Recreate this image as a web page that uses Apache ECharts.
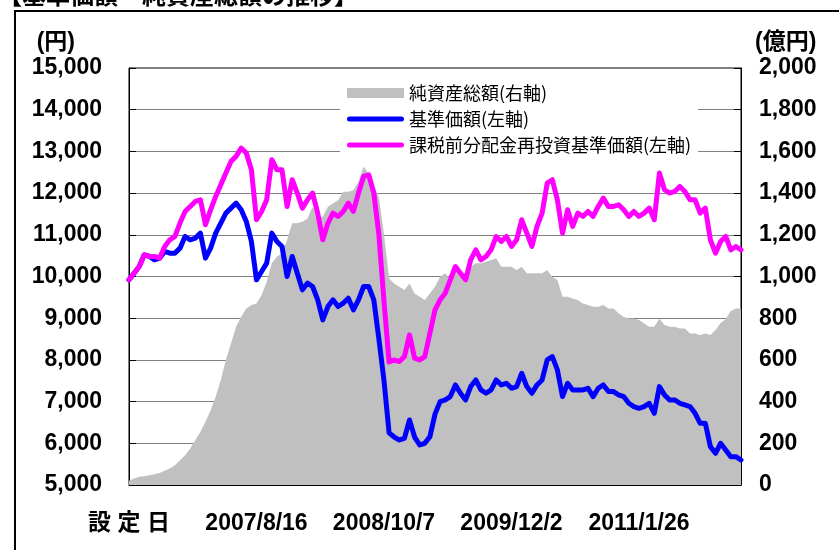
<!DOCTYPE html>
<html>
<head>
<meta charset="utf-8">
<script src="https://cdn.jsdelivr.net/npm/echarts@6.0.0/dist/echarts.min.js"></script>
<style>
    html, body { margin: 0; padding: 0; background: #fff; }
    #chart { width: 839px; height: 550px; }
</style>
</head>
<body>
<div id="chart"></div>
<script>
// x軸ラベル（設定日からの位置）
var tickLabels = ['設 定 日', '2007/8/16', '2008/10/7', '2009/12/2', '2011/1/26'];
var tickIndex = [0, 25, 50, 75, 100];

// 純資産総額（億円・右軸）
var netAssets = [20, 31, 39, 42, 47, 52, 58, 68, 79, 95,
    119, 143, 175, 215, 255, 303, 359, 423, 503, 599,
    679, 759, 807, 847, 863, 871, 911, 975, 1063, 1095,
    1111, 1175, 1255, 1255, 1263, 1278, 1334, 1286, 1286, 1334,
    1350, 1366, 1406, 1406, 1414, 1454, 1526, 1494, 1440, 1380,
    1200, 990, 967, 951, 935, 967, 919, 903, 887, 919,
    951, 999, 1015, 983, 1031, 1015, 1015, 1047, 1063, 1063,
    1071, 1079, 1087, 1047, 1047, 1047, 1031, 1047, 1015, 1015,
    1015, 1015, 1031, 999, 983, 903, 903, 895, 887, 871,
    863, 855, 855, 863, 847, 847, 823, 807, 799, 799,
    791, 775, 759, 759, 799, 767, 759, 759, 751, 751,
    727, 727, 719, 727, 719, 743, 777, 795, 835, 847,
    847];

// 基準価額（円・左軸）
var nav = [9920, 10080, 10240, 10520, 10480, 10400, 10440, 10600, 10560, 10560,
    10680, 10960, 10880, 10920, 11040, 10440, 10680, 11040, 11280, 11520,
    11640, 11760, 11600, 11320, 10840, 9920, 10120, 10320, 11040, 10840,
    10720, 10000, 10480, 10080, 9680, 9840, 9760, 9440, 8960, 9280,
    9440, 9280, 9360, 9480, 9200, 9440, 9760, 9760, 9440, 8500,
    7500, 6250, 6150, 6080, 6120, 6560, 6150, 5960, 6000, 6160,
    6700, 7000, 7040, 7120, 7400, 7200, 7040, 7360, 7520, 7280,
    7200, 7280, 7520, 7400, 7440, 7320, 7360, 7680, 7360, 7200,
    7400, 7520, 8000, 8080, 7760, 7120, 7440, 7280, 7280, 7280,
    7320, 7120, 7320, 7400, 7240, 7240, 7160, 7120, 6960, 6880,
    6840, 6880, 6960, 6720, 7360, 7160, 7040, 7040, 6960, 6920,
    6880, 6720, 6480, 6480, 5920, 5760, 6000, 5840, 5680, 5680,
    5600];

// 課税前分配金再投資基準価額（円・左軸）
var navReinvest = [9920, 10080, 10240, 10520, 10480, 10480, 10440, 10720, 10880, 10960,
    11280, 11560, 11680, 11800, 11840, 11240, 11600, 11920, 12200, 12480,
    12760, 12880, 13080, 12960, 12560, 11360, 11560, 11840, 12800, 12560,
    12560, 11680, 12320, 12000, 11640, 11840, 12000, 11520, 10880, 11280,
    11520, 11440, 11560, 11760, 11560, 12000, 12400, 12440, 12000, 11000,
    9400, 7950, 8000, 7960, 8080, 8600, 8040, 8000, 8080, 8640,
    9200, 9440, 9600, 9920, 10240, 10080, 9920, 10400, 10640, 10400,
    10480, 10640, 10960, 10840, 10960, 10720, 10880, 11360, 11040, 10720,
    11200, 11520, 12240, 12320, 11840, 11040, 11600, 11200, 11520, 11440,
    11560, 11440, 11680, 11880, 11680, 11680, 11720, 11600, 11440, 11560,
    11440, 11520, 11640, 11360, 12480, 12080, 12000, 12040, 12160, 12040,
    11840, 11840, 11520, 11640, 10880, 10560, 10840, 10960, 10640, 10720,
    10640];

var days = nav.map(function (v, i) { return String(i); });

var numFont = "'Liberation Sans', 'Noto Sans CJK JP', sans-serif";
var cjkFont = "'Noto Sans CJK JP', sans-serif";
var lineIcon = 'path://M2.5,0 L54.5,0 A2.5,2.5 0 0 1 54.5,5 L2.5,5 A2.5,2.5 0 0 1 2.5,0 Z';

var myChart = echarts.init(document.getElementById('chart'));

var option = {
    animation: false,
    backgroundColor: '#fff',
    title: {
        text: '【基準価額・純資産総額の推移】',
        left: -2,
        top: -17,
        padding: 0,
        textStyle: { fontSize: 24, fontWeight: 'bold', color: '#000', fontFamily: cjkFont }
    },
    graphic: [{
        type: 'rect',
        silent: true,
        shape: { x: 15, y: 11, width: 900, height: 600 },
        style: { fill: 'none', stroke: '#000', lineWidth: 2 }
    }],
    legend: {
        orient: 'vertical',
        left: 340,
        top: 78,
        backgroundColor: '#fff',
        padding: [5, 7, 5, 7],
        itemGap: 6,
        itemWidth: 57,
        itemHeight: 10,
        itemStyle: { borderWidth: 0 },
        textStyle: { fontSize: 18, lineHeight: 20, color: '#000', fontFamily: cjkFont },
        data: [
            { name: '純資産総額(右軸)', icon: 'rect' },
            { name: '基準価額(左軸)', icon: lineIcon },
            { name: '課税前分配金再投資基準価額(左軸)', icon: lineIcon }
        ]
    },
    grid: {
        left: 129, right: 98, top: 68, bottom: 65,
        show: true, borderColor: '#000', borderWidth: 1
    },
    xAxis: {
        type: 'category',
        data: days,
        boundaryGap: false,
        axisLine: { lineStyle: { color: '#000', width: 1 } },
        axisTick: {
            inside: true, length: 7,
            interval: function (i) { return tickIndex.indexOf(i) > 0; },
            lineStyle: { color: '#000' }
        },
        axisLabel: {
            interval: function (i) { return tickIndex.indexOf(i) >= 0; },
            formatter: function (v, i) { return tickLabels[tickIndex.indexOf(i)]; },
            margin: 27,
            fontSize: 23,
            fontWeight: 'bold',
            color: '#000',
            fontFamily: numFont
        },
        splitLine: { show: false }
    },
    yAxis: [{
        type: 'value',
        min: 5000, max: 15000, interval: 1000,
        name: '(円)',
        nameLocation: 'end',
        nameGap: 25,
        nameTextStyle: {
            fontSize: 23, fontWeight: 'bold', color: '#000', fontFamily: numFont,
            align: 'right', verticalAlign: 'middle', padding: [0, 54, 0, 0]
        },
        axisLine: { show: true, lineStyle: { color: '#000' } },
        axisTick: { show: true, inside: true, length: 7, lineStyle: { color: '#000' } },
        axisLabel: { fontSize: 23, fontWeight: 'bold', color: '#000', margin: 27, fontFamily: numFont },
        splitLine: { lineStyle: { color: '#808080', width: 1 } }
    }, {
        type: 'value',
        position: 'right',
        min: 0, max: 2000, interval: 200,
        name: '(億円)',
        nameLocation: 'end',
        nameGap: 25,
        nameTextStyle: {
            fontSize: 23, fontWeight: 'bold', color: '#000', fontFamily: numFont,
            align: 'left', verticalAlign: 'middle', padding: [0, 0, 0, 14]
        },
        axisLine: { show: true, lineStyle: { color: '#000' } },
        axisTick: { show: true, inside: true, length: 7, lineStyle: { color: '#000' } },
        axisLabel: { fontSize: 23, fontWeight: 'bold', color: '#000', margin: 18, fontFamily: numFont },
        splitLine: { show: false }
    }],
    series: [{
        name: '純資産総額(右軸)',
        type: 'line',
        yAxisIndex: 1,
        data: netAssets,
        symbol: 'none',
        color: '#c0c0c0',
        lineStyle: { width: 0 },
        areaStyle: { color: '#c0c0c0', opacity: 1 },
        z: 1
    }, {
        name: '基準価額(左軸)',
        type: 'line',
        data: nav,
        symbol: 'none',
        color: '#0000ff',
        lineStyle: { width: 5, cap: 'round', join: 'round' },
        z: 2
    }, {
        name: '課税前分配金再投資基準価額(左軸)',
        type: 'line',
        data: navReinvest,
        symbol: 'none',
        color: '#ff00ff',
        lineStyle: { width: 5, cap: 'round', join: 'round' },
        z: 3
    }]
};

myChart.setOption(option);
</script>
</body>
</html>
